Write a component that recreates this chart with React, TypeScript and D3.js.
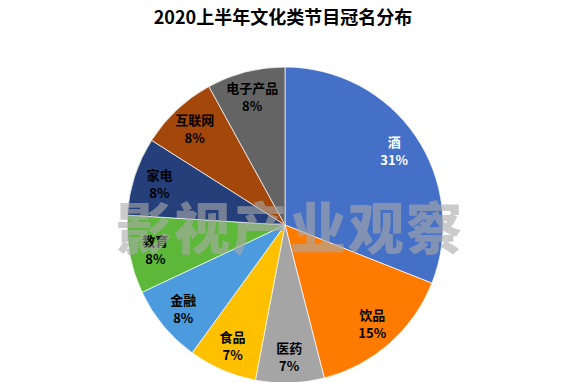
import * as d3 from "d3";
import { useEffect, useRef } from "react";

const title = "2020上半年文化类节目冠名分布";
const watermark = "影视产业观察";
const categories = ["酒", "饮品", "医药", "食品", "金融", "教育", "家电", "互联网", "电子产品"];
const shares = [31, 15, 7, 7, 8, 8, 8, 8, 8];
const colors = ["#4470c8", "#ff7b00", "#a5a5a5", "#ffc000", "#4c9bde", "#5db83a", "#243f7a", "#a3480a", "#646464"];
const labelColors = ["#ffffff", "#000", "#000", "#000", "#000", "#000", "#000", "#000", "#000"];

interface Slice {
	name: string;
	value: number;
	color: string;
	labelColor: string;
}

function PieChart() {
	const ref = useRef<SVGSVGElement>(null);

	function drawPie() {
		const width = 576;
		const height = 390;
		const radius = 158;
		const cx = 285;
		const cy = 225;
		const labelRadius = 132;
		const font = "'Noto Sans CJK SC', 'Liberation Sans', sans-serif";

		const data: Slice[] = categories.map((name, i) => ({
			name: name,
			value: shares[i],
			color: colors[i],
			labelColor: labelColors[i],
		}));

		const svg = d3.select(ref.current);
		svg.selectAll("*").remove();
		svg.attr("width", width).attr("height", height).style("display", "block");

		svg.append("rect").attr("width", width).attr("height", height).attr("fill", "#fff");

		svg.append("text")
			.attr("x", 283)
			.attr("y", 24)
			.attr("text-anchor", "middle")
			.style("font-family", font)
			.style("font-weight", "bold")
			.style("font-size", "18px")
			.attr("fill", "#000")
			.text(title);

		const pie = d3
			.pie<Slice>()
			.sort(null)
			.value((d) => d.value);
		const arcs = pie(data);
		const arc = d3.arc<d3.PieArcDatum<Slice>>().innerRadius(0).outerRadius(radius);
		const labelArc = d3.arc<d3.PieArcDatum<Slice>>().innerRadius(labelRadius).outerRadius(labelRadius);

		const g = svg.append("g").attr("transform", `translate(${cx},${cy})`);

		g.selectAll(".slice")
			.data(arcs)
			.enter()
			.append("path")
			.attr("class", "slice")
			.attr("d", arc)
			.attr("fill", (d) => d.data.color)
			.attr("stroke", "#ffffff")
			.attr("stroke-width", 0.7);

		const labels = g
			.selectAll(".label")
			.data(arcs)
			.enter()
			.append("text")
			.attr("class", "label")
			.attr("transform", (d) => {
				const [x, y] = labelArc.centroid(d);
				return `translate(${x},${y})`;
			})
			.attr("text-anchor", "middle")
			.style("font-family", font)
			.style("font-weight", "bold")
			.style("font-size", "13px")
			.attr("fill", (d) => d.data.labelColor);
		labels.append("tspan").attr("x", 0).attr("y", -4).text((d) => d.data.name);
		labels.append("tspan").attr("x", 0).attr("y", 14).text((d) => d.data.value + "%");

		// watermark sits on top of the pie, half transparent
		svg.append("text")
			.attr("x", 290)
			.attr("y", 249)
			.attr("text-anchor", "middle")
			.style("font-family", font)
			.style("font-weight", 900)
			.style("font-size", "56px")
			.style("letter-spacing", "2px")
			.attr("fill", "#aaaaaa")
			.attr("opacity", 0.6)
			.text(watermark);
	}

	useEffect(() => {
		drawPie();
	}, []);

	return <svg ref={ref}></svg>;
}

export default function App() {
	return (
		<div style={{ margin: -8 }}>
			<PieChart />
		</div>
	);
}
